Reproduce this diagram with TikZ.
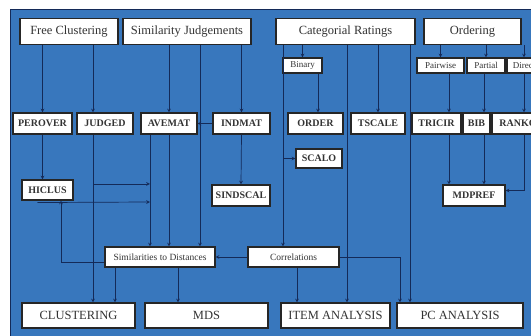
\documentclass[tikz,border=0pt]{standalone}
\usepackage{fontspec}
\setmainfont{Liberation Serif}
\definecolor{panel}{RGB}{56,119,189}
\definecolor{wire}{RGB}{20,42,88}
\begin{document}
\begin{tikzpicture}
[x=1pt, y=-1pt,
 nodes={draw=black!85, line width=1.1pt, fill=white, inner sep=0pt, text=black!80},
 catbox/.style={minimum height=26pt, font=\fontsize{12.5}{14}\selectfont},
 optbox/.style={minimum height=15pt, font=\fontsize{9}{10}\selectfont},
 progbox/.style={minimum height=21pt, font=\fontsize{10}{12}\selectfont\bfseries},
 midbox/.style={minimum height=20pt, font=\fontsize{9.5}{11}\selectfont},
 resbox/.style={minimum height=25pt, font=\fontsize{12.5}{14}\selectfont},
 >=stealth, line width=0.7pt, wire]
\useasboundingbox (0,0) rectangle (531,336);
\fill[white] (0,0) rectangle (531,336);
\filldraw[fill=panel, draw=wire, line width=1pt] (10,10) rectangle (540,345);
\clip (0,0) rectangle (531,336);

% data sources
\node[catbox, minimum width=98pt] (FC) at (69,31.5) {Free Clustering};
\node[catbox, minimum width=128pt] (SJ) at (187,31.5) {Similarity Judgements};
\node[catbox, minimum width=139pt] (CR) at (345.5,31.5) {Categorial Ratings};
\node[catbox, minimum width=97pt] (ORD) at (472.5,31.5) {Ordering};

\node[optbox, minimum width=39pt] (Binary) at (302.5,65.5) {Binary};
\node[optbox, minimum width=47pt] (Pairwise) at (440.5,65.5) {Pairwise};
\node[optbox, minimum width=38pt] (Partial) at (486,65.5) {Partial};
\node[optbox, minimum width=34pt] (Direct) at (524,65.5) {Direct};

% programs
\node[progbox, minimum width=59pt] (PEROVER) at (42.5,123.5) {PEROVER};
\node[progbox, minimum width=56pt] (JUDGED) at (105,123.5) {JUDGED};
\node[progbox, minimum width=56pt] (AVEMAT) at (169,123.5) {AVEMAT};
\node[progbox, minimum width=57pt] (INDMAT) at (241.5,123.5) {INDMAT};
\node[progbox, minimum width=55pt] (ORDER) at (315.5,123.5) {ORDER};
\node[progbox, minimum width=54pt] (TSCALE) at (378,123.5) {TSCALE};
\node[progbox, minimum width=49pt] (TRICIR) at (436.5,123.5) {TRICIR};
\node[progbox, minimum width=27pt] (BIB) at (476.5,123.5) {BIB};
\node[progbox, minimum width=52pt] (RANKO) at (518,123.5) {RANKO};

\node[progbox, minimum width=46pt, minimum height=19pt] (SCALO) at (319,158.5) {SCALO};
\node[progbox, minimum width=51pt, minimum height=20pt] (HICLUS) at (47.5,190) {HICLUS};
\node[progbox, minimum width=58pt] (SINDSCAL) at (241,195.5) {SINDSCAL};
\node[progbox, minimum width=62pt] (MDPREF) at (474,195.5) {MDPREF};

\node[midbox, minimum width=110pt] (SimDist) at (160,257) {Similarities to Distances};
\node[midbox, minimum width=91pt] (Corr) at (293.5,257) {Correlations};

% analyses
\node[resbox, minimum width=113pt] (CLUSTERING) at (78.5,315.5) {CLUSTERING};
\node[resbox, minimum width=123pt] (MDS) at (206.5,315.5) {MDS};
\node[resbox, minimum width=109pt] (ITEM) at (335.5,315.5) {ITEM ANALYSIS};
\node[resbox, minimum width=126pt] (PC) at (460,315.5) {PC ANALYSIS};

% lanes of the vertical connectors
\coordinate (lJ) at (93,0);
\coordinate (lA) at (150,0);
\coordinate (lS) at (200,0);
\coordinate (lH) at (61,0);
\coordinate (lC) at (115,0);
\coordinate (lM) at (178,0);
\coordinate (lB) at (283,0);
\coordinate (lO) at (318,0);
\coordinate (lI1) at (297,0);
\coordinate (lI2) at (347,0);
\coordinate (lP1) at (400,0);
\coordinate (lP2) at (410,0);
\coordinate (lT) at (449,0);
\coordinate (lBB) at (484,0);
\coordinate (lR) at (524,0);

\draw[->] (PEROVER.north |- FC.south) -- (PEROVER.north);
\draw[->] (lJ |- FC.south) -- (lJ |- JUDGED.north);
\draw[->] (AVEMAT.north |- SJ.south) -- (AVEMAT.north);
\draw[->] (lS |- SJ.south) -- (lS |- SimDist.north);
\draw[->] (INDMAT.north |- SJ.south) -- (INDMAT.north);
\draw[->] (INDMAT.west) -- (AVEMAT.east);

\draw[->] (PEROVER.south) -- (PEROVER.south |- HICLUS.north);
\draw[->] (INDMAT.south) -- (SINDSCAL.north);
\draw[->] (lA |- AVEMAT.south) -- (lA |- SimDist.north);
\draw[->] (AVEMAT.south) -- (AVEMAT.south |- SimDist.north);
\draw[->] (lJ |- JUDGED.south) -- (lJ |- CLUSTERING.north);
\draw[->] (lJ |- 0,184) -- (lA |- 0,184);
\draw[->] ([shift={(-10,2)}]HICLUS.south) -- (lA |- 0,202);

\draw[->] ([yshift=-5pt]SimDist.west) -| (lH |- HICLUS.south);
\draw[->] (lC |- SimDist.south) -- (lC |- CLUSTERING.north);
\draw[->] (lM |- SimDist.south) -- (lM |- MDS.north);
\draw[->] (Corr.west) -- (SimDist.east);
\draw[->] (lI1 |- Corr.south) -- (lI1 |- ITEM.north);
\draw[->] (Corr.east) -| (lP1 |- PC.north);

\draw[->] (Binary.north |- CR.south) -- (Binary.north);
\draw[->] (lO |- Binary.south) -- (lO |- ORDER.north);
\draw[->] (lB |- CR.south) -- (lB |- Corr.north);
\draw[->] (lB |- SCALO.west) -- (SCALO.west);
\draw[->] (TSCALE.north |- CR.south) -- (TSCALE.north);
\draw[->] (lI2 |- CR.south) -- (lI2 |- ITEM.north);
\draw[->] (lP2 |- CR.south) -- (lP2 |- PC.north);

\draw[->] (Pairwise.north |- ORD.south) -- (Pairwise.north);
\draw[->] (Partial.north |- ORD.south) -- (Partial.north);
\draw[->] (Direct.north |- ORD.south) -- (Direct.north);
\draw[->] (lT |- Pairwise.south) -- (lT |- TRICIR.north);
\draw[->] (lBB |- Partial.south) -- (lBB |- BIB.north);
\draw[->] (lR |- Direct.south) -- (lR |- RANKO.north);
\draw[->] (lT |- TRICIR.south) -- (lT |- MDPREF.north);
\draw[->] (lBB |- BIB.south) -- (lBB |- MDPREF.north);
\draw[->] (lR |- RANKO.south) |- ([yshift=5pt]MDPREF.east);
\end{tikzpicture}
\end{document}
